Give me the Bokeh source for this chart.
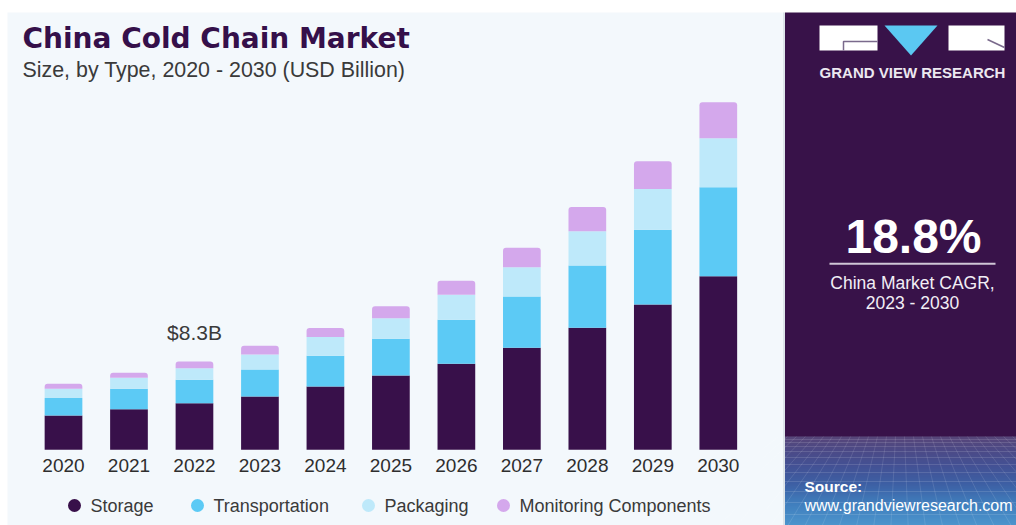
from bokeh.plotting import figure
from bokeh.models import Range1d, ColumnDataSource
from bokeh.core.properties import value
from bokeh.embed import file_html
from bokeh.resources import INLINE

# ---------------- data ----------------
years = [2020, 2021, 2022, 2023, 2024, 2025, 2026, 2027, 2028, 2029, 2030]
year_labels = [str(y) for y in years]
storage = [3.22, 3.82, 4.38, 5.01, 5.95, 6.98, 8.08, 9.59, 11.47, 13.66, 16.32]
transportation = [1.66, 1.92, 2.20, 2.54, 2.89, 3.45, 4.14, 4.82, 5.86, 7.02, 8.36]
packaging = [0.85, 1.03, 1.09, 1.41, 1.75, 1.94, 2.35, 2.75, 3.22, 3.82, 4.61]
monitoring = [0.47, 0.47, 0.63, 0.82, 0.85, 1.13, 1.32, 1.82, 2.26, 2.63, 3.38]
series_names = ["Storage", "Transportation", "Packaging", "Monitoring Components"]
series_colors = ["#38104a", "#5ccaf5", "#bee9fa", "#d4a8ec"]
highlight_year = 2022

title = "China Cold Chain Market"
subtitle = "Size, by Type, 2020 - 2030 (USD Billion)"
cagr_value = "18.8%"
cagr_label = ["China Market CAGR,", "2023 - 2030"]

# ---------------- layout ----------------
W, H = 1016, 525
px_per_year = 65.48
first_center = 63.0
px_per_b = 10.64
baseline_from_bottom = H - 449.3

x0 = years[0] - first_center / px_per_year
x1 = x0 + W / px_per_year
y0 = -baseline_from_bottom / px_per_b
y1 = y0 + H / px_per_b

p = figure(width=W, height=H, output_backend="svg", toolbar_location=None,
           x_range=Range1d(x0, x1), y_range=Range1d(y0, y1),
           x_axis_type=None, y_axis_type=None, min_border=0,
           outline_line_color=None, background_fill_color="white",
           border_fill_color="white")
p.extra_x_ranges = {"px": Range1d(0, W)}
p.extra_y_ranges = {"px": Range1d(H, 0)}
PX = dict(x_range_name="px", y_range_name="px")
FONT = value("Liberation Sans")

# chart panel background
p.quad(left=[7], right=[784], top=[12], bottom=[H], fill_color="#f3f8fc",
       line_color=None, **PX)
p.quad(left=[782.5], right=[784.5], top=[12], bottom=[H], fill_color="#dde4ea",
       line_color=None, **PX)
# right panel
p.quad(left=[784.5], right=[W], top=[12], bottom=[H], fill_color="#381249",
       line_color=None, **PX)

# gradient at bottom of right panel
g_top = 436
stops = [(g_top, (92, 78, 128)), (448, (80, 82, 142)), (464, (70, 90, 158)),
         (484, (62, 108, 178)), (503, (66, 142, 206)), (H, (80, 168, 224))]
bt, bb, bc = [], [], []
for yy in range(g_top, H):
    for (ya, ca), (yb, cb) in zip(stops[:-1], stops[1:]):
        if ya <= yy <= yb:
            t = (yy - ya) / (yb - ya)
            c = tuple(int(round(a + (b - a) * t)) for a, b in zip(ca, cb))
            break
    bt.append(yy)
    bb.append(yy + 1.2)
    bc.append("#%02x%02x%02x" % c)
p.quad(left=784.5, right=W, top=bt, bottom=bb, fill_color=bc, line_color=None, **PX)
# faint mesh
hy = [439, 442, 446, 451, 457, 464, 472, 481, 491, 502, 514]
p.segment(x0=[784.5] * len(hy), x1=[W] * len(hy), y0=hy, y1=hy,
          line_color="white", line_alpha=0.13, line_width=1, **PX)
vpx, vpy = 900, 338
vx0 = list(range(778, 1026, 9))
vx1 = [vpx + (x - vpx) * (H - vpy) / (g_top - vpy) for x in vx0]
p.segment(x0=vx0, x1=vx1, y0=[g_top] * len(vx0), y1=[H] * len(vx0),
          line_color="white", line_alpha=0.11, line_width=1, **PX)

# logo
p.quad(left=[819, 948], right=[877, 1004], top=[25, 25], bottom=[50, 50],
       fill_color="white", line_color=None, **PX)
p.multi_line(xs=[[843, 843, 877], [987, 1004]], ys=[[50, 41, 41], [39, 47]],
             line_color="#7a6a8c", line_width=1.5, **PX)
p.patch(x=[884, 937, 910.5], y=[25, 25, 55], fill_color="#5bc8f2", line_color=None, **PX)
p.text(x=[912], y=[72], text=["GRAND VIEW RESEARCH"], text_font=FONT,
       text_font_size="15px", text_font_style="bold", text_color="#ece8f0",
       text_align="center", text_baseline="middle", **PX)

# CAGR block
p.text(x=[913], y=[236], text=[cagr_value], text_font=FONT, text_font_size="48px",
       text_font_style="bold", text_color="white", text_align="center",
       text_baseline="middle", **PX)
p.segment(x0=[829], x1=[995], y0=[263.3], y1=[263.3], line_color="#cfc6d6",
          line_width=2, **PX)
p.text(x=[912, 912], y=[282.5, 302.5], text=cagr_label, text_font=FONT,
       text_font_size="17.5px", text_color="#f2eef5", text_align="center",
       text_baseline="middle", **PX)

# source
p.text(x=[804], y=[486], text=["Source:"], text_font=FONT, text_font_size="15.5px",
       text_font_style="bold", text_color="white", text_baseline="middle", **PX)
p.text(x=[804], y=[505], text=["www.grandviewresearch.com"], text_font=FONT,
       text_font_size="16px", text_color="white", text_baseline="middle", **PX)

# titles
p.text(x=[22], y=[38], text=[title], text_font=value("DejaVu Sans"),
       text_font_size="28px", text_font_style="bold", text_color="#35104a",
       text_baseline="middle", **PX)
p.text(x=[22], y=[69], text=[subtitle], text_font=FONT, text_font_size="21.4px",
       text_color="#3a3a3a", text_baseline="middle", **PX)

# ---------------- bars ----------------
source = ColumnDataSource(dict(year=years, label=year_labels, storage=storage,
                               transportation=transportation, packaging=packaging,
                               monitoring=monitoring))
stackers = ["storage", "transportation", "packaging", "monitoring"]
bar_w = 37.7 / px_per_year
rs = p.vbar_stack(stackers, x="year", width=bar_w, color=series_colors,
                  line_color=None, source=source)
rs[-1].glyph.border_radius = (3, 3, 0, 0)

# year labels
p.text(x="year", y=0, text="label", source=source, y_offset=16, text_font=FONT,
       text_font_size="19px", text_color="#2e2e2e", text_align="center",
       text_baseline="middle")

# highlight total
hi = years.index(highlight_year)
tot = storage[hi] + transportation[hi] + packaging[hi] + monitoring[hi]
p.text(x=[highlight_year], y=[tot], text=["$%.1fB" % tot], y_offset=-29,
       text_font=FONT, text_font_size="21px", text_color="#3a3a3a",
       text_align="center", text_baseline="middle")

# legend (circle markers + labels)
leg_circle_x = [74, 197, 368, 503]
leg_y = 505
p.scatter(x=leg_circle_x, y=[leg_y] * 4, marker="circle", size=13,
          fill_color=series_colors, line_color=None, **PX)
p.text(x=[cx + 16 for cx in leg_circle_x], y=[leg_y] * 4, text=series_names,
       text_font=FONT, text_font_size="18px", text_color="#3a3a3a",
       text_baseline="middle", **PX)

open("out.html", "w").write(file_html(p, INLINE))
